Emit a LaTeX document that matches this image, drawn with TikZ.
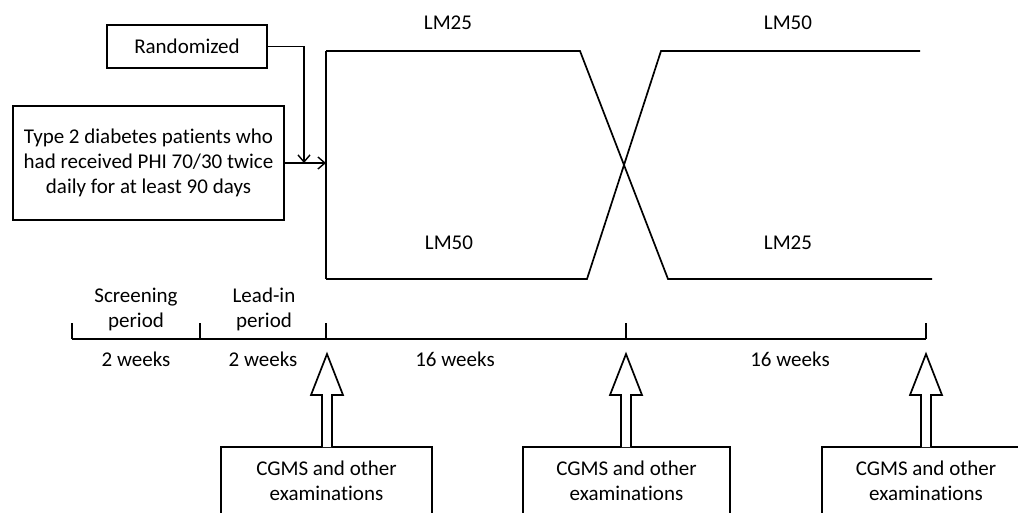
\documentclass[tikz,border=0pt]{standalone}
\usepackage{fontspec}
\setmainfont{Carlito}[Ligatures=NoCommon]
\usetikzlibrary{arrows.meta,calc}
\begin{document}
\begin{tikzpicture}[x=1pt,y=-1pt,
  line width=1.7pt, line join=miter,
  every node/.style={font=\fontsize{21}{25}\selectfont, inner sep=0pt},
  box/.style={draw, rectangle, align=center},
  lbl/.style={align=center},
  barb/.style={-{Straight Barb[length=7pt,width=12pt,line width=1.4pt]}}]
\useasboundingbox (0,0) rectangle (1018,512);
\clip (0,0) rectangle (1018,512);
% top boxes
\node[box, minimum width=160, minimum height=43] (rand) at (187,46.5) {Randomized};
\node[box, minimum width=271, minimum height=114] (pat) at (148.5,163) {Type 2 diabetes patients who\\had received PHI 70/30 twice\\daily for at least 90 days};
% crossover lines
\coordinate (s1) at (326,51);
\coordinate (s2) at (326,279);
\coordinate (a1) at (580,51);
\coordinate (a2) at (668,279);
\coordinate (a3) at (932,279);
\coordinate (b1) at (587,279);
\coordinate (b2) at (661,51);
\coordinate (b3) at (920,51);
\coordinate (entry) at (326,163);
\coordinate (rtip) at (304,163);
\draw (s1) -- (s2);
\draw (s1) -- (a1) -- (a2) -- (a3);
\draw (s2) -- (b1) -- (b2) -- (b3);
\draw[barb] (pat.east) -- (entry);
\draw[barb] (rand.east) -| (rtip);
% arm labels
\node[lbl] (l1) at (448,23) {LM25};
\node[lbl] (l2) at (788,23) {LM50};
\node[lbl] (l3) at (449,243) {LM50};
\node[lbl] (l4) at (788,243) {LM25};
% timeline
\coordinate (t0) at (72,339);
\coordinate (t1) at (200,339);
\coordinate (t2) at (326,339);
\coordinate (t3) at (626,339);
\coordinate (t4) at (926,339);
\draw (t0) -- (t4);
\foreach \t in {t0,t1,t2,t3,t4} \draw (\t) -- ++(0,-16);
\node[lbl] (p1) at (136,309.5) {Screening\\period};
\node[lbl] (p2) at (264,309.5) {Lead-in\\period};
\node[lbl] (w1) at (136,359) {2 weeks};
\node[lbl] (w2) at (263,359) {2 weeks};
\node[lbl] (w3) at (455,359) {16 weeks};
\node[lbl] (w4) at (790,359) {16 weeks};
% examination boxes
\node[box, minimum width=211, minimum height=67] (c1) at (326.5,480.5) {CGMS and other\\examinations};
\node[box, minimum width=207, minimum height=67] (c2) at (626.5,480.5) {CGMS and other\\examinations};
\node[box, minimum width=208, minimum height=67] (c3) at (926,480.5) {CGMS and other\\examinations};
% hollow block arrows
\foreach \c/\x in {c1/327,c2/626,c3/926} {
  \draw[fill=white] (\x-5,447) -- (\x-5,395) -- (\x-16,395) -- (\x,354) -- (\x+16,395) -- (\x+5,395) -- (\x+5,447);
}
\end{tikzpicture}
\end{document}
